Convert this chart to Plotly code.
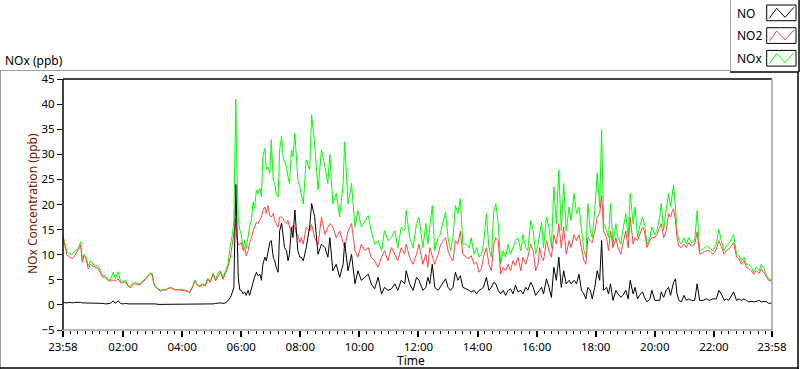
import plotly.graph_objects as go
from datetime import datetime, timedelta

# ---- data (minutes after 23:58 of the previous day) ----
T_MIN = [
    0, 4, 8, 14, 19, 24, 28, 33, 36, 39, 43, 47, 51, 56, 61, 66, 71, 76, 81, 86, 91, 96, 102, 106, 112,
    117, 122, 127, 132, 137, 142, 147, 152, 157, 162, 167, 173, 177, 181, 184, 188, 193, 198, 203, 208,
    213, 218, 223, 228, 233,
    237, 242, 248, 253, 257, 263, 268, 272, 278, 283, 289, 294, 299, 305, 310, 316, 320, 325, 330, 335,
    340, 344, 347, 351, 353, 356, 359, 362, 366, 369, 372, 376, 379, 383, 386, 389, 393, 396, 400, 403,
    406, 410, 413, 416, 420, 423, 427, 430, 433, 437, 440, 444, 447, 450, 454, 457, 460, 464, 467, 471,
    474, 477, 481, 484,
    488, 494, 501, 505, 511, 518, 525, 532, 538, 542, 548, 555, 562, 569, 572, 579, 586, 593, 599, 606,
    613, 620, 626, 633, 640, 647, 653, 660, 667, 674, 680, 687, 694, 697, 704, 711, 718, 723,
    731, 737, 741, 745, 750, 755, 762, 766, 772, 777, 782, 787, 792, 797, 802, 807, 812, 819, 825, 829,
    835, 840, 845, 850, 854, 860, 865, 870, 875, 879, 884, 889, 894, 899, 904, 909, 914, 919, 924, 930,
    934, 940, 944, 950, 955, 960, 965,
    968, 972, 976, 982, 987, 992, 997, 1002, 1007, 1012, 1017, 1022, 1028, 1032, 1038, 1043, 1048, 1053,
    1058, 1062, 1066, 1071, 1075, 1080, 1085, 1090, 1094, 1098, 1104, 1108, 1112, 1117, 1123, 1127, 1133,
    1137, 1143, 1148, 1152, 1158, 1162, 1167, 1171, 1177, 1181, 1186, 1192, 1196, 1202, 1206,
    1212, 1215, 1220, 1225, 1230, 1234, 1238, 1240, 1244, 1247, 1251, 1256, 1261, 1266, 1271, 1276, 1283,
    1288, 1293, 1300, 1307, 1313, 1320, 1327, 1332, 1337, 1343, 1347, 1352, 1357, 1362, 1368, 1373, 1378,
    1383, 1388, 1393, 1398, 1403, 1408, 1414, 1418, 1423, 1428, 1433, 1440,
]

NOX = [
    13.8, 12.1, 10.6, 10.1, 10.1, 10.8, 10.9, 11.7, 12.6, 9.1, 10.1, 9.5, 7.8, 8.8, 8.1, 7.8, 7.8, 6.8, 5.8, 5.8,
    5.2, 4.9, 6.5, 5.2, 6.6, 4.7, 4.5, 5.0, 3.9, 3.7, 4.3, 4.5, 4.2, 4.3, 4.7, 5.2, 5.9, 6.3, 6.3, 4.5,
    3.7, 3.2, 2.9, 3.1, 3.0, 3.3, 3.5, 3.3, 3.0, 3.1,
    3.0, 3.1, 2.9, 2.8, 2.5, 3.6, 5.0, 4.1, 3.8, 4.2, 3.9, 5.3, 4.7, 6.3, 5.0, 6.5, 6.8, 5.4, 6.8, 8.1,
    12.1, 14.0, 16.8, 41.0, 27.5, 17.2, 15.0, 14.0, 11.2, 12.9, 11.2, 14.0, 15.5, 17.2, 20.5, 19.2, 22.9,
    22.2, 23.2, 21.5, 29.5, 31.2, 26.9, 27.5, 26.2, 32.9, 24.8, 24.2, 22.2, 21.5, 30.9, 33.5, 29.5, 28.5,
    27.5, 25.5, 24.2, 30.9, 29.5, 34.2, 28.2, 24.8, 23.5, 22.2,
    20.1, 28.9, 26.9, 37.9, 32.2, 22.9, 30.9, 27.5, 24.2, 30.0, 20.1, 22.2, 17.5, 24.2, 32.5, 20.1, 24.2,
    15.5, 18.8, 15.5, 16.8, 17.8, 14.8, 12.1, 12.8, 10.8, 14.8, 12.8, 13.4, 14.8, 11.4, 15.5, 14.8, 18.8,
    13.4, 11.4, 16.2, 17.5,
    11.4, 16.2, 12.1, 15.5, 19.8, 10.8, 13.4, 14.0, 16.2, 18.5, 13.4, 10.8, 13.4, 19.8, 18.2, 21.2, 12.1,
    12.1, 11.4, 13.4, 10.1, 11.4, 9.5, 10.1, 12.1, 18.2, 11.4, 9.5, 18.8, 20.2, 16.2, 8.1, 10.8, 9.5, 12.1,
    10.1, 11.4, 12.8, 13.4, 10.8, 14.0, 11.4, 10.8, 16.8, 14.8, 10.1, 12.1,
    14.0, 16.5, 11.4, 17.5, 15.5, 11.4, 23.5, 16.2, 26.9, 14.8, 24.2, 14.8, 19.5, 16.8, 22.2, 18.2, 19.5,
    15.5, 10.8, 9.5, 20.2, 14.8, 13.4, 18.8, 26.2, 19.5, 34.9, 16.2, 14.8, 13.4, 20.2, 12.1, 16.2, 13.4,
    12.1, 14.8, 18.2, 13.4, 22.2, 16.2, 19.5, 13.4, 15.5, 17.5, 16.2, 12.1, 13.4, 15.5, 14.0, 14.8,
    17.5, 20.2, 14.8, 18.8, 22.2, 19.5, 22.9, 23.9, 19.5, 14.8, 12.8, 12.1, 13.4, 12.1, 13.4, 12.4, 12.8,
    18.8, 10.8, 11.1, 11.7, 11.4, 10.8, 12.1, 15.1, 12.8, 10.8, 11.7, 12.1, 13.1, 14.0, 10.1, 9.8, 8.8, 9.5,
    8.1, 8.1, 7.5, 6.5, 7.5, 6.8, 8.1, 7.5, 6.1, 5.2, 4.9,
]

NO2 = [
    13.5, 11.4, 9.9, 9.5, 9.2, 9.8, 10.4, 11.4, 11.9, 8.5, 9.8, 9.2, 7.2, 8.1, 7.7, 7.5, 7.3, 6.3, 5.5, 5.5,
    4.9, 4.7, 5.0, 4.7, 5.2, 4.4, 4.4, 4.6, 3.7, 3.4, 4.1, 4.2, 4.0, 4.1, 4.5, 5.0, 5.8, 6.1, 6.1, 4.4,
    3.5, 3.0, 2.7, 3.0, 2.9, 3.2, 3.4, 3.2, 2.9, 3.0,
    2.9, 2.9, 2.8, 2.7, 2.4, 3.5, 4.8, 4.0, 3.6, 4.0, 3.8, 5.1, 4.5, 6.1, 4.8, 5.8, 6.5, 5.1, 6.5, 7.5,
    9.5, 12.1, 14.2, 17.0, 13.5, 12.1, 12.0, 12.4, 10.8, 11.4, 9.8, 10.8, 12.4, 13.4, 14.7, 15.5, 16.5,
    16.2, 16.8, 17.5, 18.8, 19.5, 18.2, 19.8, 17.8, 17.5, 18.2, 16.8, 16.2, 15.5, 17.5, 17.5, 17.2, 16.5,
    16.2, 16.8, 15.5, 14.7, 15.8, 15.5, 14.0, 14.0, 12.4, 13.4,
    12.1, 15.5, 14.7, 16.0, 13.4, 12.0, 17.5, 14.0, 15.5, 16.2, 15.5, 13.4, 14.7, 12.1, 11.4, 14.7, 16.2,
    10.8, 9.5, 12.1, 10.8, 11.4, 9.5, 8.8, 7.5, 9.5, 10.8, 8.8, 11.4, 10.1, 8.8, 11.4, 10.1, 12.1, 9.5,
    8.1, 10.1, 12.1,
    8.1, 10.1, 7.5, 11.4, 9.5, 8.1, 10.1, 11.7, 12.8, 13.4, 10.8, 9.5, 8.8, 12.8, 12.1, 14.7, 10.1, 9.5,
    9.2, 9.8, 8.1, 8.5, 6.5, 7.2, 9.5, 11.4, 8.1, 6.8, 12.1, 13.4, 12.8, 6.1, 7.5, 6.8, 8.1, 6.8, 8.8, 7.8,
    9.5, 6.8, 9.5, 8.1, 9.5, 12.1, 10.8, 6.8, 8.1,
    11.4, 9.5, 8.8, 12.8, 10.8, 9.5, 14.0, 12.1, 16.2, 11.4, 15.5, 10.1, 12.8, 11.4, 14.0, 12.8, 14.0, 11.4,
    8.8, 8.1, 13.4, 12.8, 12.4, 14.7, 17.5, 18.2, 21.8, 14.7, 13.4, 10.8, 14.7, 11.4, 13.4, 11.4, 10.1,
    12.1, 14.7, 11.4, 17.5, 12.1, 13.4, 12.8, 14.0, 15.5, 14.7, 11.4, 12.8, 13.4, 13.4, 14.0,
    15.5, 16.2, 13.4, 14.7, 18.2, 17.5, 18.8, 19.2, 16.8, 13.4, 11.7, 11.4, 12.1, 11.4, 12.4, 11.7, 12.1,
    14.5, 10.1, 10.4, 10.8, 10.8, 10.1, 11.1, 12.8, 11.7, 10.1, 10.8, 11.1, 11.7, 12.4, 9.5, 9.2, 8.1, 8.8,
    7.5, 7.2, 6.8, 6.1, 6.8, 6.3, 7.2, 6.5, 5.8, 4.9, 4.7,
]

NO = [
    0.5, 0.4, 0.4, 0.5, 0.4, 0.5, 0.5, 0.6, 0.5, 0.4, 0.4, 0.3, 0.4, 0.3, 0.3, 0.4, 0.3, 0.3, 0.3, 0.2,
    0.3, 0.3, 0.8, 0.3, 0.8, 0.3, 0.2, 0.3, 0.2, 0.2, 0.2, 0.2, 0.3, 0.2, 0.2, 0.2, 0.2, 0.2, 0.2, 0.2,
    0.2, 0.1, 0.1, 0.2, 0.1, 0.1, 0.2, 0.1, 0.1, 0.1,
    0.1, 0.1, 0.1, 0.1, 0.1, 0.1, 0.1, 0.1, 0.1, 0.1, 0.1, 0.2, 0.2, 0.2, 0.3, 0.4, 0.4, 0.3, 0.4, 0.8,
    1.5, 2.5, 3.5, 24.0, 14.0, 5.5, 3.0, 2.9, 2.2, 2.6, 1.9, 2.9, 1.9, 3.5, 4.2, 5.5, 6.5, 5.8, 6.1, 4.9,
    8.1, 9.5, 8.8, 10.4, 12.4, 12.8, 9.5, 8.8, 7.5, 6.5, 14.7, 16.3, 13.4, 11.4, 10.8, 8.8, 10.1, 15.5,
    13.4, 18.9, 14.7, 10.8, 9.5, 9.5,
    8.8, 11.4, 15.5, 20.2, 17.6, 10.1, 12.1, 11.4, 9.5, 13.4, 6.8, 8.1, 5.5, 8.1, 12.4, 6.8, 10.1, 4.2,
    6.8, 4.9, 5.5, 6.1, 4.2, 3.2, 5.5, 2.2, 3.5, 2.9, 3.2, 4.2, 2.9, 4.9, 4.2, 6.8, 4.2, 2.9, 5.5, 4.9,
    2.9, 3.5, 5.5, 4.2, 8.1, 3.5, 2.9, 3.5, 4.2, 5.2, 3.5, 2.9, 3.5, 6.5, 4.9, 5.8, 3.5, 3.2, 2.9, 2.6,
    2.9, 2.2, 2.9, 3.2, 3.5, 5.5, 2.9, 3.5, 4.5, 4.2, 2.9, 2.2, 2.9, 1.9, 2.9, 3.2, 2.2, 3.9, 2.6, 2.9,
    2.2, 3.5, 2.9, 4.5, 3.5, 1.9, 2.6,
    2.9, 3.5, 2.2, 5.2, 3.5, 1.5, 7.5, 4.9, 9.5, 3.5, 6.8, 4.2, 4.9, 4.2, 4.9, 4.2, 6.1, 2.9, 2.2, 1.2,
    3.5, 2.9, 1.2, 3.5, 6.8, 4.9, 12.8, 2.9, 3.5, 2.2, 4.2, 0.9, 2.9, 2.2, 1.5, 1.9, 2.9, 1.2, 4.9, 2.2,
    3.5, 1.2, 1.9, 2.6, 1.5, 0.6, 1.2, 2.9, 0.9, 0.9,
    0.9, 2.6, 1.5, 2.9, 3.5, 1.9, 4.2, 4.5, 5.2, 2.2, 0.9, 0.6, 1.9, 0.9, 1.2, 0.9, 0.9, 4.2, 0.9, 0.9,
    1.2, 0.9, 1.2, 1.2, 2.9, 2.2, 0.9, 1.2, 0.9, 1.9, 2.6, 0.9, 1.2, 0.9, 1.2, 0.9, 0.6, 0.7, 0.6, 0.7,
    0.9, 0.6, 0.6, 0.7, 0.3, 0.4,
]

X_TICK_LABELS = ["23:58", "02:00", "04:00", "06:00", "08:00", "10:00", "12:00",
                 "14:00", "16:00", "18:00", "20:00", "22:00", "23:58"]
SERIES_NAMES = ["NO", "NO2", "NOx"]
COLORS = {"NO": "#000000", "NO2": "#ff4444", "NOx": "#00ff00"}

assert len(T_MIN) == len(NOX) == len(NO2) == len(NO), (len(T_MIN), len(NOX), len(NO2), len(NO))

START = datetime(2000, 1, 1, 23, 58)
END = START + timedelta(minutes=1440)
times = [START + timedelta(minutes=m) for m in T_MIN]

# major ticks
day = datetime(2000, 1, 2)
major = [START] + [day + timedelta(hours=h) for h in range(2, 23, 2)] + [END]
# minor ticks every 15 min
minor = [START + timedelta(minutes=15 * k) for k in range(1, 8)]
for h in range(2, 23, 2):
    for k in range(1, 8):
        minor.append(day + timedelta(hours=h, minutes=15 * k))

W, H = 800, 369
L, R, T, B = 63, 772, 79, 330


def px(x):
    return (x - L) / (R - L)


def py(y):
    return (B - y) / (B - T)


FONT = "Noto Sans"

fig = go.Figure()
for name, vals in (("NOx", NOX), ("NO2", NO2), ("NO", NO)):
    fig.add_trace(go.Scatter(x=times, y=vals, mode="lines", name=name,
                             line=dict(color=COLORS[name], width=1), showlegend=False))

shapes = []


def line(x0, y0, x1, y1, color, width=1):
    shapes.append(dict(type="line", xref="paper", yref="paper", x0=px(x0), y0=py(y0),
                       x1=px(x1), y1=py(y1), line=dict(color=color, width=width)))


# outer frame
line(0, 70.5, 730, 70.5, "#a0a0a0")
line(0.5, 70.5, 0.5, 369, "#a0a0a0")
line(0, 368, 799, 368, "#000000", 1.5)
line(798, 72, 798, 369, "#000000", 1.5)
# legend box
line(730.5, 0, 730.5, 71, "#a0a0a0")
line(730, 72, 799, 72, "#000000", 1.5)
line(799, 0, 799, 72, "#000000", 1.5)
# plot area border
line(L, T, R, T, "#000000", 1.5)
line(L, T, L, B, "#000000", 1.5)
line(R, T, R, B, "#a0a0a0", 1.5)
line(L, B, R, B, "#a0a0a0", 1.5)

# legend swatches
ann = []
for i, name in enumerate(SERIES_NAMES):
    y0 = 5 + i * 22.7
    x0 = 766.7
    shapes.append(dict(type="rect", xref="paper", yref="paper", x0=px(x0), x1=px(x0 + 29.3),
                       y0=py(y0), y1=py(y0 + 15.7), line=dict(color="#000000", width=1),
                       fillcolor="white"))
    pts = [(2.6, 13.3), (10, 3.3), (18.3, 12.3), (27.3, 2.3)]
    path = "M " + " L ".join(f"{px(x0 + a):.5f},{py(y0 + b):.5f}" for a, b in pts)
    shapes.append(dict(type="path", xref="paper", yref="paper", path=path,
                       line=dict(color=COLORS[name], width=1)))
    ann.append(dict(text=name, xref="paper", yref="paper", x=px(735), y=py(y0 + 8),
                    xanchor="left", yanchor="middle", showarrow=False,
                    font=dict(family=FONT, size=12, color="#000000")))

ann.append(dict(text="NOx (ppb)", xref="paper", yref="paper", x=px(3), y=py(60),
                xanchor="left", yanchor="middle", showarrow=False,
                font=dict(family=FONT, size=12, color="#000000")))
ann.append(dict(text="Time", xref="paper", yref="paper", x=px(411), y=py(360),
                xanchor="center", yanchor="middle", showarrow=False,
                font=dict(family=FONT, size=12, color="#000000")))
ann.append(dict(text="NOx Concentration (ppb)", xref="paper", yref="paper", x=px(32), y=py(204),
                xanchor="center", yanchor="middle", showarrow=False, textangle=-90,
                font=dict(family=FONT, size=12, color="#7a1a00")))

fig.update_layout(
    width=W, height=H,
    margin=dict(l=L, r=W - R, t=T, b=H - B, pad=0),
    paper_bgcolor="white", plot_bgcolor="white",
    showlegend=False,
    shapes=shapes, annotations=ann,
    font=dict(family=FONT, size=11.5, color="#000000"),
    xaxis=dict(range=[START, END], tickmode="array", tickvals=major, ticktext=X_TICK_LABELS,
               ticks="outside", ticklen=6, tickwidth=1.5, tickcolor="#000000",
               showgrid=False, zeroline=False, showline=False,
               minor=dict(tickmode="array", tickvals=minor, ticks="outside", ticklen=3,
                          tickwidth=1, tickcolor="#000000", showgrid=False),
               tickfont=dict(family=FONT, size=11.5, color="#000000")),
    yaxis=dict(range=[-5, 45], tickmode="array", tickvals=list(range(-5, 46, 5)),
               ticks="outside", ticklen=5, tickwidth=1, tickcolor="#000000",
               showgrid=False, zeroline=False, showline=False,
               tickfont=dict(family=FONT, size=11.5, color="#000000")),
)

fig.write_html("out.html",
               config={"displayModeBar": False},
               post_script="document.body.style.margin='0';document.body.style.padding='0';"
                           "document.documentElement.style.overflow='hidden';")
